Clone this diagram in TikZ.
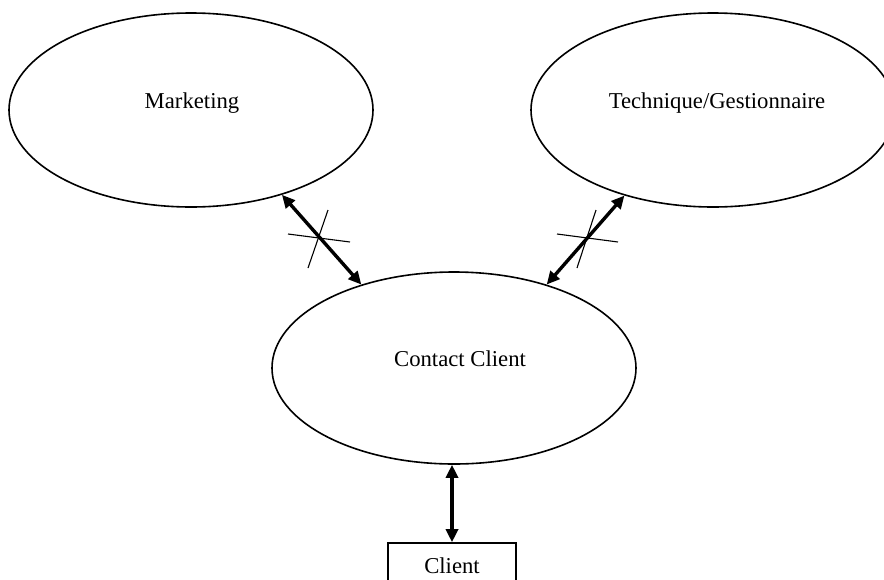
\documentclass[tikz,border=0pt]{standalone}
\usepackage{fontspec}
\setmainfont{Liberation Serif}
\usetikzlibrary{arrows.meta,shapes.geometric}

\tikzset{
  bubble/.style={draw=black, line width=1.6pt, ellipse, inner sep=0pt,
                 minimum width=364pt, minimum height=194pt},
  caption/.style={anchor=base, inner sep=0pt,
                  font=\fontsize{22.7}{27}\selectfont},
  actor/.style={draw=black, line width=1.6pt, inner sep=0pt,
                minimum width=128pt, minimum height=44pt},
  flow/.style={line width=3.4pt,
               {Triangle[length=13pt,width=12pt]}-{Triangle[length=13pt,width=12pt]}},
  cut/.style={line width=1.1pt}
}

\begin{document}
\begin{tikzpicture}[x=1pt,y=-1pt]
  \path[use as bounding box] (0,0) rectangle (884,579);
  \clip (0,0) rectangle (884,579);

  % processes
  \node[bubble] (mk) at (191,110) {};
  \node[bubble] (tg) at (713,110) {};
  \node[bubble, minimum height=192pt] (cc) at (454,368) {};
  \node[actor] (cl) at (452,565) {};

  % labels
  \node[caption] (mkt) at (192,108) {Marketing};
  \node[caption] (tgt) at (717,108) {Technique/Gestionnaire};
  \node[caption] (cct) at (460,366) {Contact Client};
  \node[caption] (clt) at (452,573) {Client};

  % exchanges
  \draw[flow] (mk.-43.7) -- (cc.138.8);
  \draw[flow] (tg.-136) -- (cc.42.4);
  \draw[flow] (cl.north |- cc.south) -- (cl.north);

  % crossed-out links
  \draw[cut] (288,234) -- (350,242);
  \draw[cut] (328,210) -- (308,268);
  \draw[cut] (557,234) -- (618,242);
  \draw[cut] (596,210) -- (577,268);
\end{tikzpicture}
\end{document}
